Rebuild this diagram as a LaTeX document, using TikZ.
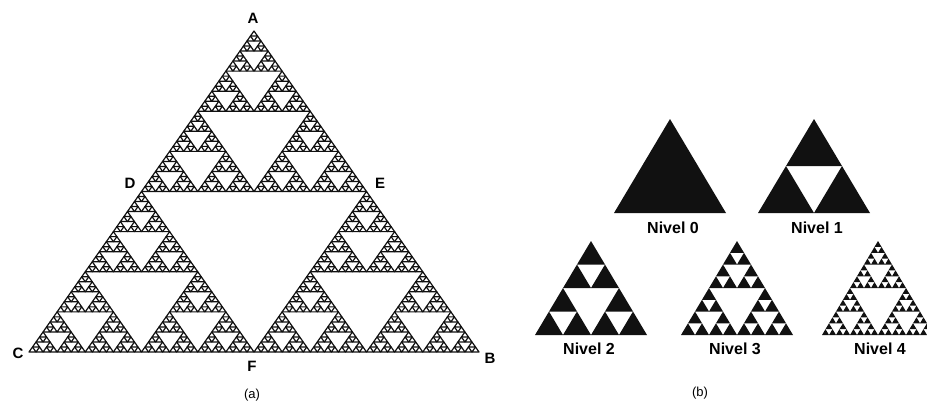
\documentclass[tikz,border=0pt]{standalone}
\usepackage{fontspec}
\setmainfont{Liberation Sans}
\usetikzlibrary{positioning}
\definecolor{ink}{HTML}{111111}
\newcommand{\gasket}[2][fill]{%
  \ifnum#2=0
    \path[#1] (0,0)--(1,0)--(0.5,1)--cycle;
  \else
    \foreach \dx/\dy in {0/0,0.5/0,0.25/0.5}{%
      \begin{scope}[shift={(\dx,\dy)},scale=0.5]\gasket[#1]{\numexpr#2-1\relax}\end{scope}}%
  \fi}

\begin{document}
\begin{tikzpicture}[x=1pt,y=-1pt,
  vtx/.style={font=\bfseries\fontsize{15}{15}\selectfont},
  niv/.style={font=\bfseries\fontsize{16}{16}\selectfont},
  subcap/.style={font=\fontsize{13}{13}\selectfont}]
  \useasboundingbox (0,0) rectangle (927,410);
  % (a) big triangle
  \begin{scope}[shift={(29,352)},xscale=450,yscale=-321]
    \gasket[draw=ink,line width=1.2pt,line join=round]{6}
  \end{scope}
  \node[vtx] (A) at (253,18) {A};
  \node[vtx] (B) at (490,358) {B};
  \node[vtx] (C) at (18,353) {C};
  \node[vtx] (D) at (130,183) {D};
  \node[vtx] (E) at (380,183) {E};
  \node[vtx] (F) at (252,366) {F};
  \node[subcap] (capa) at (252,395) {(a)};
  % (b) levels 0..4
  \foreach \n/\cx/\by/\lx/\ly in {0/670/213/673/228,1/814/213/817/228,
      2/591/335/589/349,3/737/335/735/349,4/878/335/880/349} {
    \begin{scope}[shift={(\cx-56,\by)},xscale=112,yscale=-94]
      \gasket[fill=ink]{\n}
    \end{scope}
    \node[niv] (niv\n) at (\lx,\ly) {Nivel \n};}
  \node[subcap] (capb) at (700,393) {(b)};
\end{tikzpicture}
\end{document}
